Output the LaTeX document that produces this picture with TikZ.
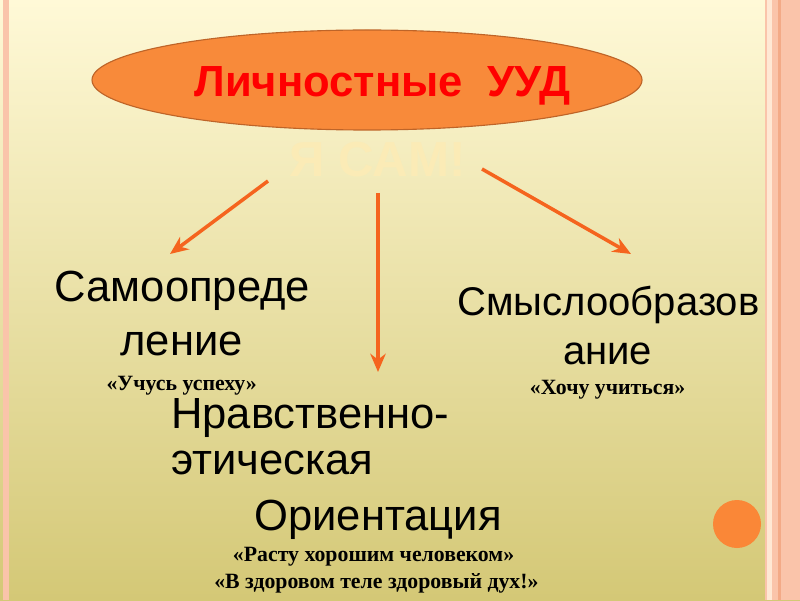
\documentclass[tikz,border=0pt]{standalone}
\usepackage{fontspec}
\setmainfont{Liberation Sans}
\newfontfamily\quotefont{Liberation Serif}
\usepackage{tikz}
\usetikzlibrary{shapes.geometric,arrows.meta}

\definecolor{fontop}{RGB}{255,249,215}
\definecolor{fonmid}{RGB}{252,236,165}
\definecolor{fonbot}{RGB}{212,200,118}
\definecolor{ramka}{RGB}{250,196,170}
\definecolor{ramkadark}{RGB}{243,170,135}
\definecolor{ramkalight}{RGB}{255,232,212}
\definecolor{ovalfill}{RGB}{248,138,58}
\definecolor{ovalline}{RGB}{190,100,40}
\definecolor{arrowc}{RGB}{245,100,30}
\definecolor{yasamc}{RGB}{251,235,182}
\definecolor{krug}{RGB}{250,135,55}

\begin{document}
\begin{tikzpicture}[font=\fontsize{31}{37}\selectfont,
    oval/.style={ellipse, draw=ovalline, fill=ovalfill, line width=0.8pt,
      minimum width=13.75cm, minimum height=2.5cm, inner sep=0pt},
    title/.style={anchor=base, inner sep=0pt, text=red,
      font=\bfseries\fontsize{31}{37}\selectfont},
    word/.style={anchor=base, inner sep=0pt},
    quote/.style={anchor=base, inner sep=0pt,
      font=\quotefont\bfseries\fontsize{15.5}{18}\selectfont},
    arr/.style={-{Stealth[length=13pt,width=11pt]}, line width=2.5pt, draw=arrowc}]
    % Фон
    \useasboundingbox (0,0) rectangle (20,15);
    \shade[top color=fontop, middle color=fonmid, bottom color=fonbot] (0,0) rectangle (20,15);
    \fill[ramka] (0.075,0) rectangle (0.225,15);
    \fill[ramka] (19.125,0) rectangle (19.175,15);
    \fill[ramkalight] (19.175,0) rectangle (19.3,15);
    \fill[ramka] (19.3,0) rectangle (19.45,15);
    \fill[ramkadark] (19.45,0) rectangle (19.525,15);
    \fill[ramka] (19.525,0) rectangle (20,15);

    % Эллипс
    \node[oval] (uud) at (9.175,13) {};
    \node[title] (uudtxt) at (9.56,12.575) {Личностные\ \ УУД};
    \node[word, text=yasamc, font=\bfseries\fontsize{35}{40}\selectfont] (yasam) at (9.44,10.575) {Я САМ!};

    % Подписи
    \node[word] (samo1) at (4.56,7.45) {Самоопреде};
    \node[word] (samo2) at (4.54,6.125) {ление};
    \node[quote] (samoq) at (4.54,5.25) {«Учусь успеху»};

    \node[word, font=\fontsize{28.5}{34}\selectfont] (smysl1) at (15.21,7.1) {Смыслообразов};
    \node[word, font=\fontsize{28.5}{34}\selectfont] (smysl2) at (15.19,5.9) {ание};
    \node[quote] (smyslq) at (15.19,5.15) {«Хочу учиться»};

    \node[word, anchor=base west] (nrav1) at (4.275,4.3) {Нравственно-};
    \node[word, anchor=base west] (nrav2) at (4.275,3.15) {этическая};
    \node[word] (nrav3) at (9.45,1.75) {Ориентация};
    \node[quote] (nravq1) at (9.34,0.975) {«Расту хорошим человеком»};
    \node[quote] (nravq2) at (9.41,0.3) {«В здоровом теле здоровый дух!»};

    % Стрелки
    \coordinate (l0) at (6.7,10.475);
    \coordinate (l1) at (4.25,8.65);
    \coordinate (m0) at (9.45,10.175);
    \coordinate (m1) at (9.45,5.7);
    \coordinate (r0) at (12.05,10.775);
    \coordinate (r1) at (15.775,8.65);
    \draw[arr] (l0) -- (l1);
    \draw[arr] (m0) -- (m1);
    \draw[arr] (r0) -- (r1);

    % Кружок
    \fill[krug] (18.425,1.9) circle (0.6);
\end{tikzpicture}
\end{document}
